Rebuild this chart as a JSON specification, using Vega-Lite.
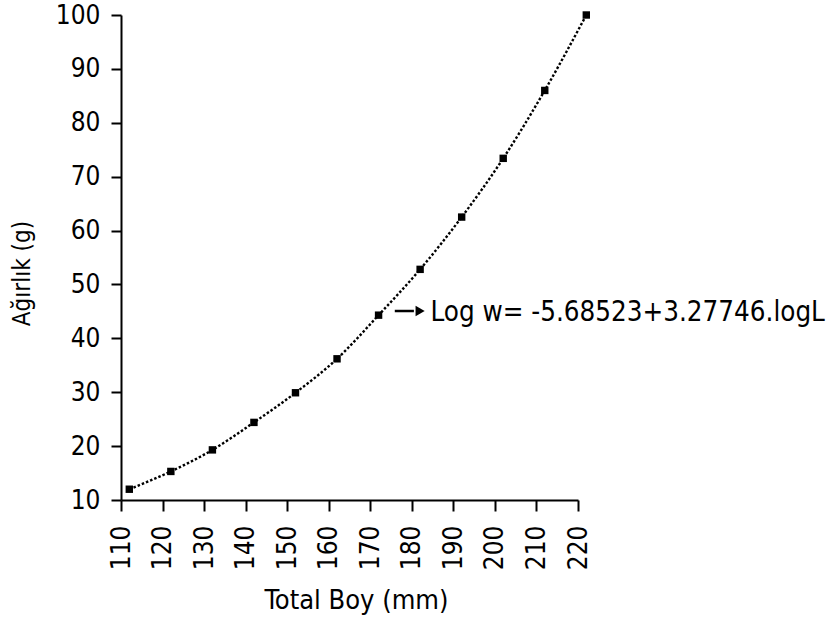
{
  "$schema": "https://vega.github.io/schema/vega-lite/v6.json",
  "autosize": {"type": "none"},
  "padding": {"left": 121, "top": 15, "right": 251, "bottom": 139},
  "width": 457,
  "height": 485,
  "background": "white",
  "config": {
    "view": {"stroke": null},
    "font": "DejaVu Sans Condensed, DejaVu Sans, sans-serif",
    "axis": {
      "domainColor": "black",
      "domainWidth": 2,
      "tickColor": "black",
      "tickWidth": 2,
      "labelColor": "black",
      "titleColor": "black",
      "labelFont": "DejaVu Sans Condensed, DejaVu Sans, sans-serif",
      "titleFont": "DejaVu Sans Condensed, DejaVu Sans, sans-serif",
      "titleFontWeight": "normal",
      "grid": false,
      "labelOverlap": false
    }
  },
  "layer": [
    {
      "data": {
        "values": [
          {"boy": 112, "agirlik": 12.0},
          {"boy": 122, "agirlik": 15.3},
          {"boy": 132, "agirlik": 19.3},
          {"boy": 142, "agirlik": 24.4},
          {"boy": 152, "agirlik": 29.9},
          {"boy": 162, "agirlik": 36.2},
          {"boy": 172, "agirlik": 44.3},
          {"boy": 182, "agirlik": 52.8},
          {"boy": 192, "agirlik": 62.5},
          {"boy": 202, "agirlik": 73.4},
          {"boy": 212, "agirlik": 86.0},
          {"boy": 222, "agirlik": 100.0}
        ]
      },
      "encoding": {
        "x": {
          "field": "boy",
          "type": "quantitative",
          "scale": {"domain": [110, 220], "nice": false, "zero": false, "clamp": false},
          "axis": {
            "title": "Total Boy (mm)",
            "values": [110,115,120,125,130,135,140,145,150,155,160,165,170,175,180,185,190,195,200,205,210,215,220],
            "labelExpr": "datum.value % 10 === 0 ? datum.label : ''",
            "tickSize": {"condition": {"test": "datum.value % 10 === 0", "value": 11}, "value": 5},
            "labelAngle": 270,
            "labelAlign": "right",
            "labelBaseline": "middle",
            "labelPadding": 14,
            "labelFontSize": 26,
            "titleFontSize": 27,
            "titleBaseline": "alphabetic",
            "titleY": 108,
            "titleX": 235,
            "titleAlign": "center"
          }
        },
        "y": {
          "field": "agirlik",
          "type": "quantitative",
          "scale": {"domain": [10, 100], "nice": false, "zero": false},
          "axis": {
            "title": "Ağırlık (g)",
            "values": [10,15,20,25,30,35,40,45,50,55,60,65,70,75,80,85,90,95,100],
            "labelExpr": "datum.value % 10 === 0 ? datum.label : ''",
            "tickSize": {"condition": {"test": "datum.value % 10 === 0", "value": 10}, "value": 5},
            "labelPadding": 11,
            "labelFontSize": 26,
            "labelBaseline": "middle",
            "titleFontSize": 24,
            "titleAngle": 270,
            "titleBaseline": "middle",
            "titleAlign": "center",
            "titleX": -99,
            "titleY": 258
          }
        }
      },
      "layer": [
        {
          "mark": {"type": "line", "color": "black", "strokeWidth": 2.4, "strokeDash": [2.5, 2], "interpolate": "monotone"}
        },
        {
          "mark": {"type": "point", "shape": "square", "filled": true, "color": "black", "opacity": 1, "size": 55}
        }
      ]
    },
    {
      "data": {"values": [{"x1": 175.9, "x2": 180.5, "y": 45.07}]},
      "mark": {"type": "rule", "color": "black", "strokeWidth": 2.5},
      "encoding": {
        "x": {"field": "x1", "type": "quantitative"},
        "x2": {"field": "x2"},
        "y": {"field": "y", "type": "quantitative"}
      }
    },
    {
      "data": {"values": [{"x": 182.0, "y": 45.07}]},
      "mark": {"type": "point", "shape": "triangle-right", "filled": true, "color": "black", "opacity": 1, "size": 110},
      "encoding": {
        "x": {"field": "x", "type": "quantitative"},
        "y": {"field": "y", "type": "quantitative"}
      }
    },
    {
      "data": {"values": [{"x": 184.5, "y": 43.2, "label": "Log w= -5.68523+3.27746.logL"}]},
      "mark": {"type": "text", "align": "left", "baseline": "alphabetic", "fontSize": 27.5, "font": "DejaVu Sans Condensed, DejaVu Sans, sans-serif", "color": "black"},
      "encoding": {
        "x": {"field": "x", "type": "quantitative"},
        "y": {"field": "y", "type": "quantitative"},
        "text": {"field": "label"}
      }
    }
  ]
}
